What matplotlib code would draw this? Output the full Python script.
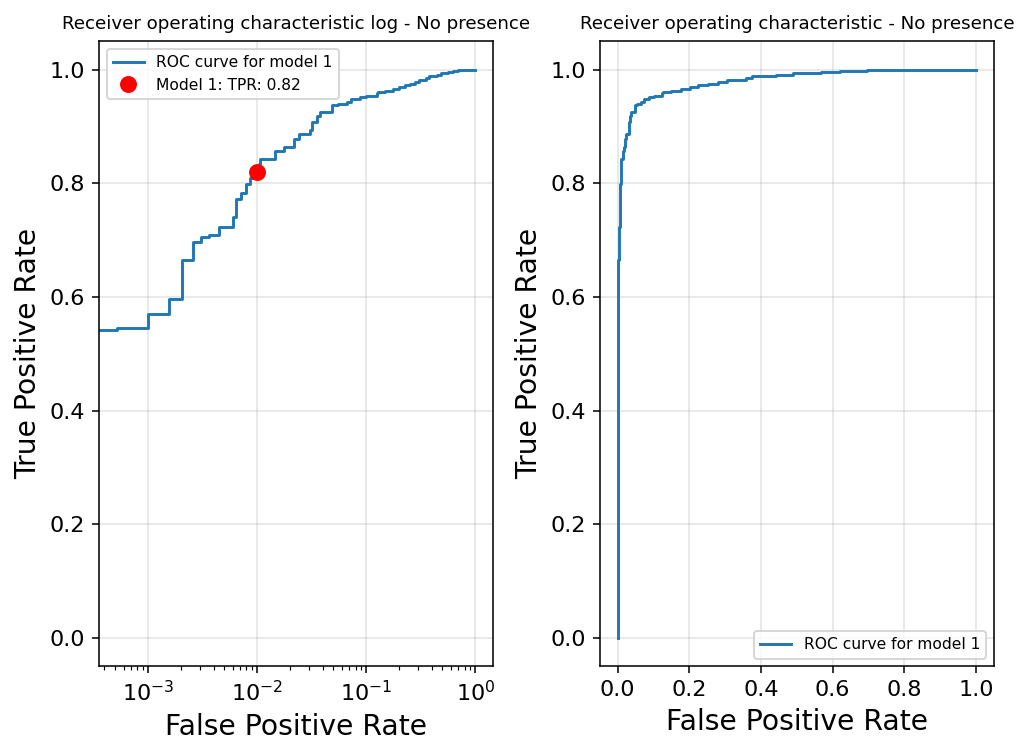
import matplotlib
matplotlib.use("Agg")
import matplotlib.pyplot as plt
from matplotlib.ticker import MultipleLocator

# ROC corner points (steps-post: tpr holds until next fpr)
fpr = [0.0, 0.0, 5.2e-4, 1.01e-3, 1.56e-3, 2.04e-3, 2.6e-3, 3.06e-3, 3.6e-3,
       4.47e-3, 6.0e-3, 6.4e-3, 7.2e-3, 7.9e-3, 8.6e-3, 9.7e-3, 0.0104,
       0.01074, 0.0147, 0.0175, 0.0216, 0.0240, 0.0308, 0.0318, 0.0353,
       0.0379, 0.0484, 0.055, 0.0664, 0.073, 0.0879, 0.1006, 0.1247,
       0.128, 0.15, 0.1771, 0.202, 0.225, 0.2517, 0.28, 0.304, 0.3571,
       0.375, 0.442, 0.488, 0.507, 0.567, 0.62, 0.695, 1.0]
tpr = [0.0, 0.542, 0.545, 0.569, 0.596, 0.665, 0.697, 0.705, 0.709,
       0.723, 0.741, 0.773, 0.783, 0.799, 0.809, 0.820, 0.834,
       0.843, 0.857, 0.863, 0.878, 0.887, 0.894, 0.907, 0.919,
       0.925, 0.937, 0.940, 0.942, 0.948, 0.951, 0.954, 0.958,
       0.960, 0.963, 0.966, 0.970, 0.972, 0.975, 0.978, 0.982, 0.985,
       0.988, 0.991, 0.993, 0.994, 0.996, 0.997, 1.0, 1.0]

point_fpr = 0.01
point_tpr = 0.82

dpi = 140
fig, (ax1, ax2) = plt.subplots(1, 2, figsize=(1020 / dpi, 747 / dpi), dpi=dpi)
fig.subplots_adjust(left=0.097, right=0.9745, bottom=0.108, top=0.945, wspace=0.27)

# log plot
ax1.plot(fpr, tpr, drawstyle="steps-post", color="#1f77b4", label="ROC curve for model 1")
ax1.plot(point_fpr, point_tpr, "o", color="red", markersize=7.7,
         label=f"Model 1: TPR: {point_tpr:.2f}")
ax1.set_xscale("log")
ax1.set_xlabel("False Positive Rate", fontsize=14.5)
ax1.set_ylabel("True Positive Rate", fontsize=14.5)
ax1.set_title("Receiver operating characteristic log - No presence", fontsize=9.4)
ax1.grid(alpha=0.35)
ax1.legend(loc="upper left", fontsize=8)

# linear plot
ax2.plot(fpr, tpr, drawstyle="steps-post", color="#1f77b4", label="ROC curve for model 1")
ax2.set_xlabel("False Positive Rate", fontsize=14.5)
ax2.set_ylabel("True Positive Rate", fontsize=14.5)
ax2.set_title("Receiver operating characteristic - No presence", fontsize=9.4)
ax2.xaxis.set_major_locator(MultipleLocator(0.2))
ax2.grid(alpha=0.35)
ax2.legend(loc="lower right", fontsize=8)

for ax in (ax1, ax2):
    ax.yaxis.set_major_locator(MultipleLocator(0.2))
    ax.tick_params(labelsize=11.5)

plt.savefig("out.png", dpi=dpi)
plt.close()
